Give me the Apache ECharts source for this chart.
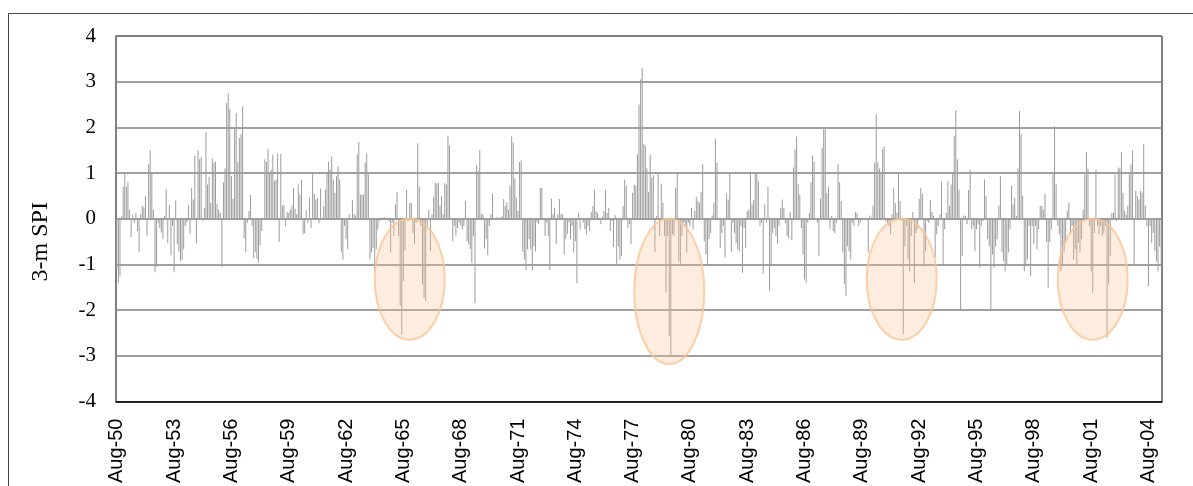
<!DOCTYPE html>
<html>
<head>
<meta charset="utf-8">
<script src="https://cdn.jsdelivr.net/npm/echarts@6/dist/echarts.min.js"></script>
<style>
  html, body { margin: 0; padding: 0; background: #fff; }
  #chart { width: 1193px; height: 486px; }
</style>
</head>
<body>
<div id="chart"></div>
<script>
// 3-month SPI, monthly values from Aug-1950
var spiA = [
  -1.1, -1.4, -1.25, 0.05, 0.7, 1.0, 0.7, 0.8, 0.2, -0.4,
  0.1, -0.1, 0.13, -0.27, -0.73, 0.1, 0.28, 0.25, 0.5, -0.37,
  1.2, 1.5, 1.0, 0.2, -1.17, -1.05, -0.1, -0.2, -0.3, -0.45,
  0.06, 0.65, -0.53, 0.3, -0.8, -0.16, -1.17, 0.4, -0.56, -0.73,
  -0.93, -0.9, -0.67, -0.16, -0.08, 0.3, -0.34, 0.68, 0.42, 1.38,
  -0.54, 1.5, 1.3, 1.35, -0.05, 0.24, 1.9, 0.75, 0.92, 0.35,
  1.32, 1.22, 1.25, 0.33, 0.2, 0.13, -1.06, 0.8, 1.1, 2.54,
  2.75, 2.4, 0.93, 0.44, 2.0, 2.32, 1.24, 1.77, 1.85, 2.45,
  -0.42, -0.74, -0.09, 0.17, 0.52, -0.16, -0.86, -0.73, -0.88, -0.95,
  -0.58, -0.27, 0, 1.3, 1.24, 1.53, 1.0, 1.07, 1.4, 0.82,
  0.86, 1.43, -0.51, 1.42, 0.29, 0.3, -0.16, 0.15
];
var spiB = [
  0.13, 0.2, 0.29, 0.68, 0.22, 0.1, 0.75, 0.53, 0.86, -0.34,
  -0.32, 0.19, -0.1, 0.46, -0.2, 1.02, 0.55, 0.42, 0.46, -0.1,
  0.66, 0, 0.28, 0.64, 1.0, 1.24, 1.08, 1.36, 0.86, 0.57,
  0.93, 1.15, 0.86, -0.74, -0.89, -0.16, -0.45, -0.67, 0.1, 0,
  0.41, 0.1, 0.07, 1.41, 1.68, 0.53, 0.53, 0.53, 1.23, 1.43,
  0.97, -0.89, -0.74, -0.64, -1.15, -0.67, -0.23, -0.05, 0.03, -0.02,
  0.04, -0.03, 0.02, -0.06, -0.74, -0.09, -0.38, 0.31, 0.58, -0.38,
  -1.91, -2.53, -1.36, -0.69, 0.63, -0.05, 0.34, 0.35, -0.31, -0.56,
  -0.09, 1.65, 0.7, -0.16, -1.44, -1.73, -1.8, -0.16, 0.19, -0.71,
  0.1, 0.48, 0.79, 0.77, 0.79, 0.29, 0.5, 0.1, 0.79, 0.75,
  1.82, 1.6, 0, -0.49, -0.16, -0.38, -0.2, -0.09, -0.15, -0.23
];
var spiC = [
  -0.16, 0.39, -0.49, -0.56, -0.67, -0.97, -0.38, -1.85, 1.17, 1.05,
  1.5, 0.1, 0.1, -0.65, -0.45, -0.8, -0.16, 0.1, 0.55, 0.02,
  -0.03, 0.04, -0.02, 0.03, 0.05, 0.43, 0.28, 0.35, 0.19, 0.72,
  1.8, 1.67, 0.88, 0.46, 0.17, 1.24, 1.28, -0.73, -0.89, -1.12,
  -0.67, -0.45, -0.67, -1.14, -0.6, -0.71, -0.08, -0.12, 0.68, 0.68,
  0, -0.38, -0.08, -0.38, -1.12, 0.44, 0.1, 0.24, -0.56, 0.1,
  0.43, 0.1, 0.1, -0.78, -0.45, -0.34, -0.08, -0.45, -0.16, -0.74,
  -0.49, -1.41, 0.12, -0.23, 0.02, -0.08, -0.23, -0.34, -0.16, -0.27,
  0.15, 0.28, 0.64, 0.17, 0.13, 0.02, -0.12, 0.05, 0.17, 0.63,
  0.13, 0.24, -0.27, -0.05, -0.62, 0.08, -1.0, -0.6, -0.89, -0.81,
  0.28, 0.86, 0.72, -0.2, -0.12, -0.56, 0.57, 0.75, 0.73
];
var spiD = [
  1.41, 2.5, 3.05, 3.3, 1.63, 1.6, 1.1, 0.58, 1.4, 0.9,
  0.95, -0.73, 0.06, 0.98, -0.38, 0.77, 0.35, -0.38, -1.62, -0.38,
  -2.57, -3.0, -0.34, -0.38, 0.68, 1.02, -0.93, -1.04, -0.38, -0.09,
  -0.16, -0.74, -0.09, -0.16, 0.24, -0.23, 0.17, 0.48, 0.39, 0.35,
  0.59, 1.19, -0.49, -0.78, -1.04, -0.45, -0.31, 0.07, 0.35, 1.75,
  1.22, 0, -0.64, -0.31, -0.16, -0.85, 0.55, 0.42, 0.98, -0.73,
  -0.09, -0.31, -0.53, -0.67, -0.71, -0.16, -1.18, -0.2, -0.64, 0.17,
  0.2, 1.03, 0.31, 0.41, 1.02, 1.0, 0.82, -0.16, -0.09, -1.2,
  0.31, -0.09, 0.7, -1.57, -1.01, -0.32, -0.2, -0.38, -0.54, -0.16,
  0.24, 0.42, 0.24, -0.09, -0.38, -0.42, 0.15, -0.47, 1.12, 1.52,
  1.8, 0.75, 0.53, -0.2, -0.78, -1.33, -1.4, -0.09, 0.13, 0.8
];
var spiE = [
  1.39, 1.24, 0, -0.09, -0.82, 0.44, 1.55, 1.96, 1.96, 0.57,
  0.7, -0.23, 0.06, -0.27, -0.31, -0.09, 1.2, 0.8, 0.39, -0.74,
  -1.42, -1.69, -0.6, -0.71, -0.89, -0.09, -0.16, 0.15, 0.13, -0.16,
  -0.09, 0.02, -0.02, 0.01, -0.03, -0.74, 0.07, 0.02, 0.29, 1.23,
  2.28, 1.23, 1.1, 1.0, 1.52, 1.58, -0.05, -0.09, -0.16, -0.34,
  0.1, 0.66, 0.34, 0.13, 0.98, 0.39, 0, -2.53, -0.6, -0.16,
  -0.89, -1.15, -0.38, 0.15, -1.4, -0.31, -0.23, 0.44, 0.68, 0.55,
  -1.04, -0.71, -0.05, -0.09, 0.41, 0.15, 0.07, -0.85, -0.34, -0.16,
  0.1, 0.81, -1.0, -0.23, 0.13, 0.82, 0.28, 0.75, 1.02, 1.81,
  2.38, 1.3, 0.64, -1.99, -0.82, 0.07, 0.06, -0.12, 0.63, 1.07,
  -0.23, -0.16, -0.71, -0.23, -0.12, -1.07, -0.16, -0.05, 0.86
];
var spiF = [
  0.5, -0.45, -0.6, -1.99, -0.78, -1.07, -0.6, -0.45, 0.29, 0.93,
  -0.74, -0.93, -1.15, -1.0, -0.74, -0.23, 0.72, 0.31, 0.46, 0.06,
  1.1, 2.36, 1.85, 0.51, -1.15, -1.04, -0.89, -0.16, -1.26, -0.16,
  -0.56, -0.16, -0.67, -0.23, 0.28, 0.29, 0.2, 0.55, -0.51, -1.51,
  -0.51, -0.23, 1.0, 2.03, 0.75, -0.16, -0.34, -1.15, -1.04, -0.74,
  -0.53, 0.17, 0.35, -0.34, -0.16, -0.89, -0.67, -1.0, -0.53, -0.74,
  -0.45, 0.2, 0.97, 1.46, 1.1, -0.16, -1.15, -1.62, -0.31, 1.08,
  -0.16, -0.34, -0.16, -0.38, -0.31, -0.16, -2.6, -1.44, -0.82, 0.13,
  0.13, 0.97, -0.05, 1.12, 1.1, 1.46, 0.57, 0.17, 0.09, 0.28,
  0.97, 1.19, 1.5, -1.0, 0.61, 0.5, 0.42, 0.61, 0.57, 1.63,
  0.29, -0.16, -1.47, -0.16, -0.53, -0.31, -0.71, -0.93, -1.15, -0.6,
  -1.04
];
var spi = spiA.concat(spiB, spiC, spiD, spiE, spiF);

// month labels "Aug-50", "Sep-50", ...
var monthNames = ['Jan','Feb','Mar','Apr','May','Jun','Jul','Aug','Sep','Oct','Nov','Dec'];
var months = [];
for (var i = 0; i < spi.length; i++) {
  var m = (7 + i) % 12;
  var y = (1950 + Math.floor((7 + i) / 12)) % 100;
  months.push(monthNames[m] + '-' + (y < 10 ? '0' + y : y));
}

// drought periods marked by ellipses: centre month index, lowest SPI covered
var droughtCentre = [184, 347, 493, 613];
var droughtLow = [-2.65, -3.18, -2.65, -2.65];
var droughtHalfWidth = 22; // months

var chart = echarts.init(document.getElementById('chart'));

var option = {
  animation: false,
  grid: {
    left: 116, right: 31, top: 36, bottom: 83,
    show: true,
    borderColor: '#000',
    borderWidth: 1
  },
  xAxis: {
    type: 'category',
    data: months,
    axisLine: { onZero: false, lineStyle: { color: '#000', width: 1.5 } },
    axisTick: { show: false },
    axisLabel: {
      interval: 35,
      rotate: 90,
      margin: 17,
      color: '#000',
      fontFamily: 'Liberation Sans',
      fontSize: 20
    },
    splitLine: { show: false }
  },
  yAxis: {
    type: 'value',
    min: -4,
    max: 4,
    interval: 1,
    name: '3-m SPI',
    nameLocation: 'middle',
    nameRotate: 90,
    nameGap: 63,
    nameTextStyle: {
      fontFamily: 'Liberation Serif',
      fontSize: 24,
      color: '#000',
      padding: [0, 46, 0, 0]
    },
    axisLine: { show: true, lineStyle: { color: '#808080', width: 1.5 } },
    axisTick: { show: false },
    axisLabel: {
      margin: 20,
      color: '#000',
      fontFamily: 'Liberation Serif',
      fontSize: 21
    },
    splitLine: { lineStyle: { color: '#808080', width: 1.5 } }
  },
  series: [{
    type: 'bar',
    data: spi,
    barWidth: 1,
    itemStyle: { color: '#9c9c9c' }
  }]
};

chart.setOption(option);

// outer frame and the drought ellipses, placed through the axes
var shapes = [{
  type: 'rect',
  shape: { x: 8.5, y: 13.5, width: 1200, height: 500 },
  style: { fill: 'none', stroke: '#444', lineWidth: 1 },
  silent: true
}];
for (var k = 0; k < droughtCentre.length; k++) {
  var c = droughtCentre[k];
  var pTop = chart.convertToPixel({ xAxisIndex: 0, yAxisIndex: 0 }, [c, 0]);
  var pBot = chart.convertToPixel({ xAxisIndex: 0, yAxisIndex: 0 }, [c, droughtLow[k]]);
  var pL = chart.convertToPixel({ xAxisIndex: 0, yAxisIndex: 0 }, [c - droughtHalfWidth, 0]);
  var pR = chart.convertToPixel({ xAxisIndex: 0, yAxisIndex: 0 }, [c + droughtHalfWidth, 0]);
  shapes.push({
    type: 'ellipse',
    shape: {
      cx: (pL[0] + pR[0]) / 2,
      cy: (pTop[1] + pBot[1]) / 2,
      rx: (pR[0] - pL[0]) / 2,
      ry: (pBot[1] - pTop[1]) / 2
    },
    style: { fill: 'rgba(250,196,150,0.3)', stroke: 'rgba(250,196,150,0.8)', lineWidth: 2 },
    z: 100,
    silent: true
  });
}
chart.setOption({ graphic: shapes });

window.onresize = function () {
  chart.resize();
};
</script>
</body>
</html>
